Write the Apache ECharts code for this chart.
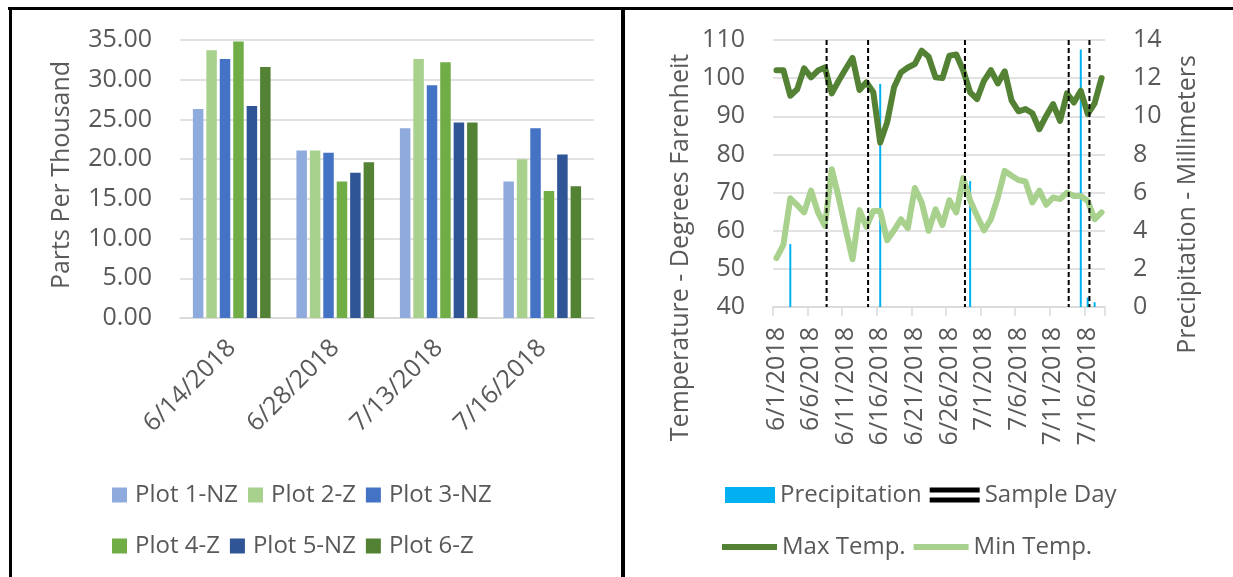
<!DOCTYPE html>
<html>
<head>
<meta charset="utf-8">
<script src="https://cdn.jsdelivr.net/npm/echarts@6/dist/echarts.min.js"></script>
<style>
  html, body { margin: 0; padding: 0; background: #fff; }
  #chart { width: 1233px; height: 577px; }
</style>
</head>
<body>
<div id="chart"></div>
<script>
// ---------- Left chart data ----------
const sampleDates = ['6/14/2018', '6/28/2018', '7/13/2018', '7/16/2018'];
const plot1NZ = [26.3, 21.1, 23.9, 17.2];
const plot2Z  = [33.7, 21.1, 32.6, 20.0];
const plot3NZ = [32.6, 20.8, 29.3, 23.9];
const plot4Z  = [34.8, 17.2, 32.2, 16.0];
const plot5NZ = [26.7, 18.3, 24.6, 20.6];
const plot6Z  = [31.6, 19.6, 24.6, 16.6];
const pptTicks = [0, 5, 10, 15, 20, 25, 30, 35];

// ---------- Right chart data ----------
const days = ['6/1/2018','6/2/2018','6/3/2018','6/4/2018','6/5/2018','6/6/2018','6/7/2018','6/8/2018','6/9/2018','6/10/2018',
  '6/11/2018','6/12/2018','6/13/2018','6/14/2018','6/15/2018','6/16/2018','6/17/2018','6/18/2018','6/19/2018','6/20/2018',
  '6/21/2018','6/22/2018','6/23/2018','6/24/2018','6/25/2018','6/26/2018','6/27/2018','6/28/2018','6/29/2018','6/30/2018',
  '7/1/2018','7/2/2018','7/3/2018','7/4/2018','7/5/2018','7/6/2018','7/7/2018','7/8/2018','7/9/2018','7/10/2018',
  '7/11/2018','7/12/2018','7/13/2018','7/14/2018','7/15/2018','7/16/2018','7/17/2018','7/18/2018'];
const maxTemp = [102.1, 102.1, 95.4, 97.1, 102.6, 100.2, 102.0, 102.8, 96.0, 99.3,
  102.4, 105.3, 96.9, 98.9, 96.3, 83.1, 88.4, 97.6, 101.5, 102.8,
  103.7, 107.2, 105.6, 100.2, 100.0, 105.9, 106.2, 102.0, 96.3, 94.5,
  99.3, 102.1, 98.6, 101.8, 94.1, 91.3, 91.9, 90.8, 86.6, 90.1,
  93.2, 88.8, 96.0, 93.6, 96.7, 90.6, 93.4, 100.0];
const minTemp = [52.8, 56.3, 68.5, 66.7, 64.8, 70.5, 64.8, 61.3, 76.1, 68.7,
  60.4, 52.5, 65.4, 61.0, 65.2, 65.2, 57.5, 60.1, 63.0, 60.7,
  71.2, 67.4, 60.0, 65.6, 61.5, 68.0, 64.8, 73.8, 68.0, 63.9,
  60.1, 63.0, 68.7, 75.7, 74.4, 73.3, 72.9, 67.4, 70.5, 66.8,
  68.7, 68.3, 70.0, 69.1, 69.1, 67.8, 63.0, 64.8];
const precipitation = [0, 0, 3.3, 0, 0, 0, 0, 0, 0, 0,
  0, 0, 0, 0, 0, 11.7, 0, 0, 0, 0,
  0, 0, 0, 0, 0, 0, 0, 0, 6.6, 0,
  0, 0, 0, 0, 0, 0, 0, 0, 0, 0,
  0, 0, 0, 0, 13.5, 0.5, 0.25, 0];
const sampleDays = ['6/8/2018', '6/14/2018', '6/28/2018', '7/13/2018', '7/16/2018'];

const FONT = 'Open Sans';
const TXT = '#595959';
const GRID = '#D9D9D9';

const chart = echarts.init(document.getElementById('chart'), null, { renderer: 'canvas' });

const barColors = ['#8FAADC', '#A9D18E', '#4472C4', '#70AD47', '#2F5597', '#548235'];
const barNames = ['Plot 1-NZ', 'Plot 2-Z', 'Plot 3-NZ', 'Plot 4-Z', 'Plot 5-NZ', 'Plot 6-Z'];
const barData = [plot1NZ, plot2Z, plot3NZ, plot4Z, plot5NZ, plot6Z];

const barSeries = barNames.map((n, i) => ({
  name: n, type: 'bar', xAxisIndex: 0, yAxisIndex: 0,
  data: barData[i], barWidth: 10.5, barGap: '28%',
  itemStyle: { color: barColors[i] }
}));

const legendText = (w, pad) => ({ fontFamily: FONT, fontSize: 24, color: TXT, width: w, padding: [0, 0, 0, pad] });

const option = {
  animation: false,
  backgroundColor: '#fff',
  textStyle: { fontFamily: FONT },
  graphic: [
    { type: 'rect', shape: { x: 8, y: 7, width: 1225, height: 3 }, style: { fill: '#000' }, silent: true },
    { type: 'rect', shape: { x: 9, y: 7, width: 3, height: 570 }, style: { fill: '#000' }, silent: true },
    { type: 'rect', shape: { x: 621, y: 7, width: 4, height: 570 }, style: { fill: '#000' }, silent: true }
  ],
  grid: [
    { left: 180, top: 40, width: 414, height: 278 },
    { left: 773, top: 40, width: 332, height: 267 }
  ],
  legend: [
    { data: barNames.slice(0, 3), left: 112, top: 483, padding: 0, icon: 'rect', itemWidth: 15, itemHeight: 15,
      itemGap: 10, textStyle: legendText(110, 3) },
    { data: barNames.slice(3, 6), left: 112, top: 534, padding: 0, icon: 'rect', itemWidth: 15, itemHeight: 15,
      itemGap: 10, textStyle: legendText(110, 3) },
    { data: [ { name: 'Precipitation', icon: 'rect' },
              { name: 'Sample Day', icon: 'path://M0,0H50V5H0Z M0,10H50V15H0Z', itemStyle: { color: '#000' } } ],
      left: 725, top: 483, padding: 0, itemWidth: 50, itemHeight: 16, itemGap: 8,
      textStyle: legendText(152, 0) },
    { data: [ { name: 'Max Temp.', icon: 'rect' }, { name: 'Min Temp.', icon: 'rect' } ],
      left: 722, top: 535, padding: 0, itemWidth: 55, itemHeight: 6, itemGap: 8,
      textStyle: legendText(150, 0) }
  ],
  xAxis: [
    { type: 'category', gridIndex: 0, data: sampleDates,
      axisLine: { lineStyle: { color: GRID, width: 1.5 } },
      axisTick: { show: false },
      axisLabel: { rotate: 45, interval: 0, margin: 26, fontFamily: FONT, fontSize: 25, color: TXT } },
    { type: 'category', gridIndex: 1, data: days, boundaryGap: true,
      axisLine: { lineStyle: { color: GRID, width: 1.5 } },
      axisTick: { show: true, interval: 4, length: 9, lineStyle: { color: GRID, width: 1.5 } },
      axisLabel: { rotate: 90, interval: 4, margin: 20, fontFamily: FONT, fontSize: 25, color: TXT } }
  ],
  yAxis: [
    { type: 'value', gridIndex: 0, min: pptTicks[0], max: pptTicks[pptTicks.length - 1], interval: 5,
      name: 'Parts Per Thousand', nameLocation: 'middle', nameGap: 106,
      nameTextStyle: { fontFamily: FONT, fontSize: 25, color: TXT, padding: [0, 0, 0, 8] },
      axisLine: { show: false }, axisTick: { show: false },
      axisLabel: { margin: 28, fontFamily: FONT, fontSize: 25, color: TXT, formatter: v => v.toFixed(2) },
      splitLine: { lineStyle: { color: GRID, width: 1.5 } } },
    { type: 'value', gridIndex: 1, min: 40, max: 110, interval: 10,
      name: 'Temperature - Degrees Farenheit', nameLocation: 'middle', nameGap: 80,
      nameTextStyle: { fontFamily: FONT, fontSize: 25, color: TXT, padding: [0, 148, 0, 0] },
      axisLine: { show: false }, axisTick: { show: false },
      axisLabel: { margin: 28, fontFamily: FONT, fontSize: 25, color: TXT },
      splitLine: { lineStyle: { color: GRID, width: 1.5 } } },
    { type: 'value', gridIndex: 1, position: 'right', min: 0, max: 14, interval: 2,
      name: 'Precipitation - Millimeters', nameLocation: 'middle', nameGap: 70, nameRotate: 90,
      nameTextStyle: { fontFamily: FONT, fontSize: 25, color: TXT, padding: [0, 62, 0, 0] },
      axisLine: { show: false }, axisTick: { show: false },
      axisLabel: { margin: 28, fontFamily: FONT, fontSize: 25, color: TXT },
      splitLine: { show: false } }
  ],
  series: barSeries.concat([
    { name: 'Precipitation', type: 'bar', xAxisIndex: 1, yAxisIndex: 2, data: precipitation,
      barWidth: 2, itemStyle: { color: '#00B0F0' }, z: 2 },
    { name: 'Max Temp.', type: 'line', xAxisIndex: 1, yAxisIndex: 1, data: maxTemp,
      showSymbol: false, symbol: 'none', lineStyle: { color: '#548235', width: 6, cap: 'round', join: 'round' },
      itemStyle: { color: '#548235' }, z: 3 },
    { name: 'Min Temp.', type: 'line', xAxisIndex: 1, yAxisIndex: 1, data: minTemp,
      showSymbol: false, symbol: 'none', lineStyle: { color: '#A9D18E', width: 6, cap: 'round', join: 'round' },
      itemStyle: { color: '#A9D18E' }, z: 3 },
    { name: 'Sample Day', type: 'custom', xAxisIndex: 1, yAxisIndex: 2,
      data: sampleDays.map(d => [d, 1]), encode: { x: 0, y: 1 }, z: 4,
      itemStyle: { color: '#000' },
      renderItem: function (params, api) {
        const cs = params.coordSys;
        const x = api.coord([api.value(0), 0])[0] + api.size([1, 0])[0] * 0.25;
        return { type: 'line', shape: { x1: x, y1: cs.y, x2: x, y2: cs.y + cs.height },
          style: { stroke: '#000', lineWidth: 2, lineDash: [5, 3], fill: null } };
      } }
  ])
};
chart.setOption(option);
</script>
</body>
</html>
